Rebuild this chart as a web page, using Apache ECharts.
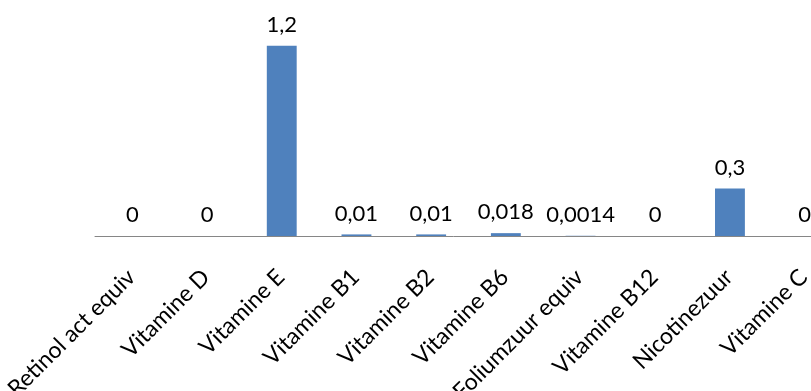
<!DOCTYPE html>
<html>
<head>
<meta charset="utf-8">
<script src="https://cdn.jsdelivr.net/npm/echarts@6/dist/echarts.min.js"></script>
<style>html,body{margin:0;padding:0;background:#fff;}#c{width:811px;height:391px;}</style>
</head>
<body>
<div id="c"></div>
<script>
var categories = ["Retinol act equiv","Vitamine D","Vitamine E","Vitamine B1","Vitamine B2","Vitamine B6","Foliumzuur equiv","Vitamine B12","Nicotinezuur","Vitamine C"];
var values = [0, 0, 1.2, 0.01, 0.01, 0.018, 0.0014, 0, 0.3, 0];
var yMin = 0, yMax = 1.4;

var chart = echarts.init(document.getElementById('c'));
chart.setOption({
  animation: false,
  backgroundColor: '#ffffff',
  grid: { left: 95, width: 747, top: 14, height: 222, containLabel: false, outerBoundsMode: 'none' },
  xAxis: {
    type: 'category',
    data: categories,
    axisLine: { show: true, lineStyle: { color: '#868686', width: 1 } },
    axisTick: { show: false },
    axisLabel: { rotate: 45, interval: 0, margin: 20, align: 'right', verticalAlign: 'top', padding: [0, 13, 0, 0], color: '#000000', fontFamily: 'Lato', fontSize: 23 }
  },
  yAxis: {
    type: 'value', min: yMin, max: yMax,
    show: false,
    splitLine: { show: false }
  },
  series: [{
    type: 'bar',
    data: values,
    barWidth: '40%',
    itemStyle: { color: '#4F81BD' },
    label: {
      show: true, position: 'top', distance: 10,
      color: '#000000', fontFamily: 'Lato', fontSize: 22,
      formatter: function (p) { return String(p.value).replace('.', ','); }
    }
  }]
});
</script>
</body>
</html>
